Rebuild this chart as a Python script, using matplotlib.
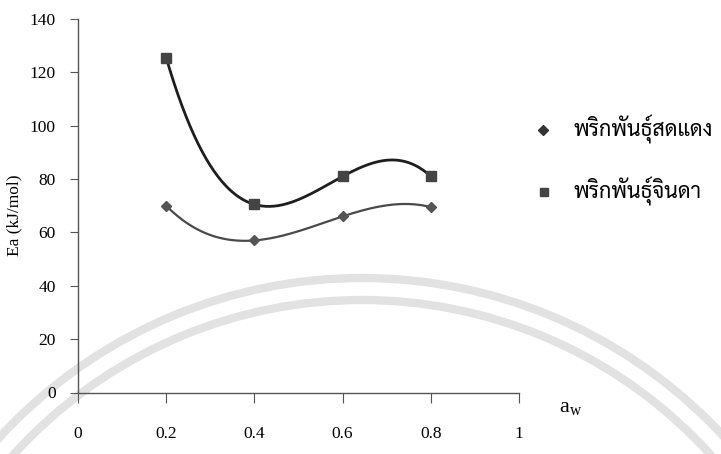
import numpy as np
import matplotlib
matplotlib.use('Agg')
import matplotlib.pyplot as plt
from matplotlib.patches import Arc

plt.rcParams['font.family'] = ['Liberation Serif', 'DejaVu Serif']
plt.rcParams['mathtext.fontset'] = 'custom'
plt.rcParams['mathtext.rm'] = 'Liberation Serif'

# data
aw = [0.2, 0.4, 0.6, 0.8]
ea_sodaeng = [70.0, 57.0, 66.0, 69.5]
ea_jinda = [125.5, 70.5, 81.0, 81.0]
names = ['พริกพันธุ์สดแดง', 'พริกพันธุ์จินดา']
xticks = [0, 0.2, 0.4, 0.6, 0.8, 1]
yticks = [0, 20, 40, 60, 80, 100, 120, 140]

fig = plt.figure(figsize=(7.21, 4.54), dpi=100)

# faint watermark arcs behind the chart
bg = fig.add_axes([0, 0, 1, 1], zorder=-1)
bg.set_xlim(0, 721)
bg.set_ylim(454, 0)
bg.axis('off')
for r in [492, 470]:
    bg.add_patch(Arc((362, 770), 2 * r, 2 * r, theta1=0, theta2=360,
                     color='#e2e2e2', lw=6))

ax = fig.add_axes([78 / 721, 61.5 / 454, 441 / 721, 373.5 / 454])
ax.patch.set_alpha(0)

# smoothed lines: cubic through the four points
xs = np.linspace(aw[0], aw[-1], 200)
ax.plot(xs, np.polyval(np.polyfit(aw, ea_sodaeng, 3), xs), color='#4a4a4a', lw=1.6)
ax.plot(xs, np.polyval(np.polyfit(aw, ea_jinda, 3), xs), color='#1e1e1e', lw=2.0)
ax.plot(aw, ea_sodaeng, linestyle='none', marker='D', ms=5, color='#555555')
ax.plot(aw, ea_jinda, linestyle='none', marker='s', ms=6.5, color='#444444')

ax.set_xlim(0, 1)
ax.set_ylim(0, 140)
ax.set_xticks(xticks)
ax.set_xticklabels(['0', '0.2', '0.4', '0.6', '0.8', '1'])
ax.set_yticks(yticks)
ax.tick_params(axis='y', direction='out', length=6, width=0.8, pad=10,
               labelsize=12.5, color='#555555')
ax.tick_params(axis='x', direction='out', length=7, width=0.8, pad=17,
               labelsize=12.5, color='#555555')
for s in ['top', 'right']:
    ax.spines[s].set_visible(False)
for s in ['left', 'bottom']:
    ax.spines[s].set_color('#555555')
    ax.spines[s].set_linewidth(1.0)

fig.text(14 / 721, 1 - 215 / 454, 'Ea (kJ/mol)', fontsize=12.5, rotation=90,
         ha='center', va='center')
fig.text(559 / 721, 1 - 408 / 454, r'$\mathrm{a}_\mathrm{w}$', fontsize=16, va='center')

# legend drawn as two rows on the right
fig.lines.append(plt.Line2D([543 / 721], [1 - 130 / 454], marker='D', ms=5,
                            color='#333333', transform=fig.transFigure))
fig.lines.append(plt.Line2D([544 / 721], [1 - 192 / 454], marker='s', ms=6,
                            color='#444444', transform=fig.transFigure))
thai = ['Sarabun', 'Noto Sans Thai Looped', 'DejaVu Sans']
fig.text(573 / 721, 1 - 130 / 454, names[0], family=thai, fontsize=15.5, va='center')
fig.text(573 / 721, 1 - 192 / 454, names[1], family=thai, fontsize=15.5, va='center')

fig.savefig('out.png')
